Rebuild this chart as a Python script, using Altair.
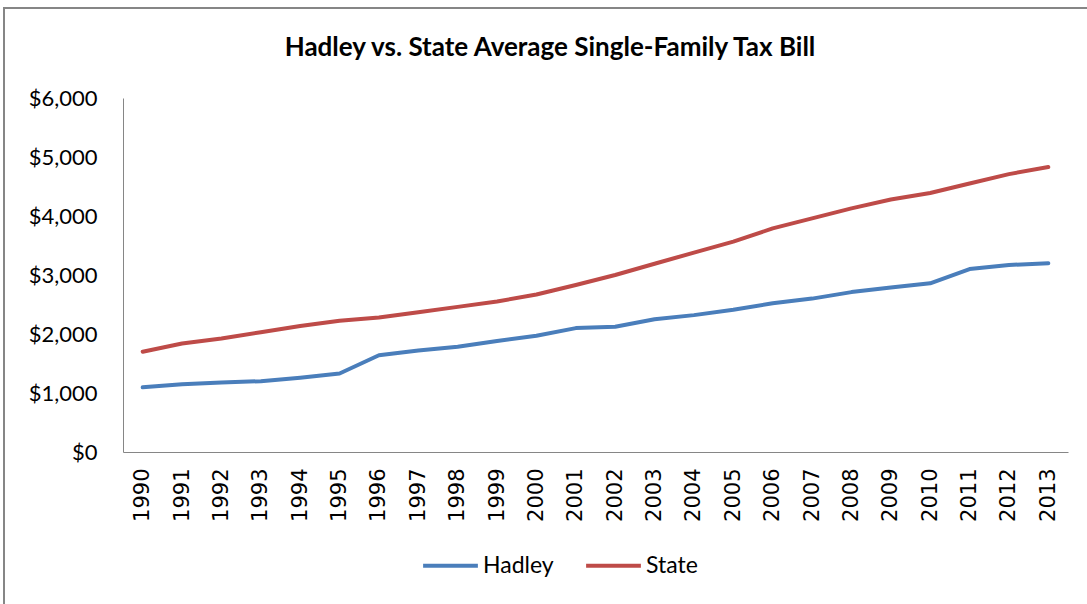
import altair as alt
import pandas as pd

years = [str(y) for y in range(1990, 2014)]
hadley = [1097, 1150, 1180, 1200, 1260, 1330, 1640, 1720, 1785, 1880, 1970, 2100,
          2124, 2250, 2320, 2410, 2520, 2600, 2710, 2790, 2860, 3100, 3170, 3200]
state = [1700, 1840, 1925, 2030, 2136, 2226, 2280, 2370, 2460, 2550, 2670, 2830,
         3000, 3190, 3380, 3565, 3790, 3960, 4130, 4280, 4390, 4550, 4710, 4830]
series = ["Hadley", "State"]
colors = ["#4A7EBB", "#BE4B48"]
title_text = ["Hadley vs. State Average Single-Family Tax Bill"]

df = pd.DataFrame({
    "Year": years * 2,
    "Value": hadley + state,
    "Series": [series[0]] * len(years) + [series[1]] * len(years),
})

W, H = 945, 354
FONT = "Lato"

lines = alt.Chart(df).mark_line(strokeWidth=4, strokeCap="round", strokeJoin="round").encode(
    x=alt.X("Year:N", sort=years, title=None,
            scale=alt.Scale(paddingInner=0, paddingOuter=0.5),
            axis=alt.Axis(labelAngle=-90, labelFont="DejaVu Sans", labelFontSize=21,
                          labelColor="#000000", labelPadding=16, ticks=False,
                          domainColor="#868686", labelBaseline="middle", labelAlign="right")),
    y=alt.Y("Value:Q", title=None,
            scale=alt.Scale(domain=[0, 6000]),
            axis=alt.Axis(values=[0, 1000, 2000, 3000, 4000, 5000, 6000], format="$,.0f",
                          labelFont=FONT, labelFontSize=22,
                          labelColor="#000000", labelPadding=26, ticks=False, grid=False,
                          domainColor="#868686")),
    color=alt.Color("Series:N", scale=alt.Scale(domain=series, range=colors),
                    legend=alt.Legend(title=None, orient="none", direction="horizontal",
                                      legendX=298, legendY=438,
                                      symbolType="stroke", symbolSize=3000, symbolStrokeWidth=4,
                                      labelFont=FONT, labelFontSize=23,
                                      labelColor="#000000", columnPadding=24, labelOffset=3)),
)

frame = alt.Chart(pd.DataFrame({"a": [0]})).mark_rect(
    fill="transparent", stroke="#868686", strokeWidth=2).encode(
    x=alt.value(-119), x2=alt.value(W + 40), y=alt.value(-90), y2=alt.value(H + 170))

title = alt.Chart(pd.DataFrame({"t": title_text})).mark_text(
    font=FONT, fontSize=26, fontWeight="bold", color="#000000",
    align="center", baseline="middle").encode(
    text="t:N", x=alt.value(427), y=alt.value(-50))

chart = alt.layer(frame, title, lines).properties(
    width=W, height=H,
    view=alt.ViewBackground(stroke="transparent", strokeWidth=0),
    padding={"left": 123, "top": 98, "right": 19, "bottom": 152},
    autosize=alt.AutoSizeParams(type="none"),
).configure_view(stroke="transparent", strokeWidth=0).configure(background="white")

chart.save("out.html", embed_options={"renderer": "svg", "actions": False})
